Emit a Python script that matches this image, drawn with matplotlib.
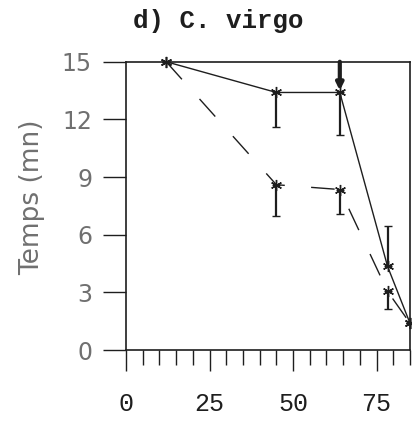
import matplotlib.pyplot as plt
from matplotlib.ticker import MultipleLocator

# Valeurs
x = [12, 45, 64, 78.3, 85]

# courbe pleine
y_pleine = [15, 13.4, 13.4, 4.35, 1.4]
err_bas_pleine = [0, 1.8, 2.2, 0, 0]
err_haut_pleine = [0, 0, 0, 2.1, 0]

# courbe en tirets
y_tirets = [15, 8.6, 8.35, 3.05, 1.4]
err_bas_tirets = [0, 1.65, 1.25, 0.9, 0]
err_haut_tirets = [0, 0, 0, 0, 0]

xticks = [0, 25, 50, 75]
yticks = [0, 3, 6, 9, 12, 15]

ink = "#1e1e1e"
gris = "#707070"

fig = plt.figure(figsize=(4.12, 4.21), dpi=100)
ax = fig.add_axes([0.306, 0.1686, 0.689, 0.6848])

ax.errorbar(x, y_pleine, yerr=[err_bas_pleine, err_haut_pleine],
            color=ink, lw=1.0, elinewidth=1.6, capsize=3, capthick=1.4,
            marker=(6, 2, 0), ms=8, mew=1.0, clip_on=False)
ax.errorbar(x, y_tirets, yerr=[err_bas_tirets, err_haut_tirets],
            color=ink, lw=1.0, elinewidth=1.6, capsize=3, capthick=1.4,
            marker=(6, 2, 0), ms=8, mew=1.0, clip_on=False,
            dashes=(17, 19))

# fleche epaisse au-dessus du 3e point
ax.annotate("", xy=(64, 13.5), xytext=(64, 15),
            arrowprops=dict(arrowstyle="-|>", lw=3, color=ink,
                            mutation_scale=10, shrinkA=0, shrinkB=0))

ax.set_xlim(0, 85)
ax.set_ylim(0, 15)
ax.set_xticks(xticks)
ax.set_yticks(yticks)
ax.xaxis.set_minor_locator(MultipleLocator(5))

for s in ax.spines.values():
    s.set_linewidth(1.2)
    s.set_color(ink)

ax.tick_params(axis="y", direction="out", length=16.5, width=1.0,
               pad=8, colors=ink, labelcolor=gris, labelsize=17)
ax.tick_params(axis="x", which="major", direction="out", length=15,
               width=1.0, pad=15, colors=ink)
ax.tick_params(axis="x", which="minor", direction="out", length=11,
               width=1.0, colors=ink)

for lab in ax.get_yticklabels():
    lab.set_family("DejaVu Sans")
for lab in ax.get_xticklabels():
    lab.set_family(["Liberation Mono", "DejaVu Sans Mono"])
    lab.set_fontsize(18)
    lab.set_color(ink)

ax.set_ylabel("Temps (mn)", fontsize=19, color=gris, family="DejaVu Sans")
ax.yaxis.set_label_coords(-0.285, 0.53)

fig.text(0.53, 0.95, "d) C. virgo", ha="center", va="center",
         fontsize=18.5, fontweight="bold", color=ink,
         family=["Liberation Mono", "DejaVu Sans Mono"])

fig.savefig("out.png", dpi=100)
